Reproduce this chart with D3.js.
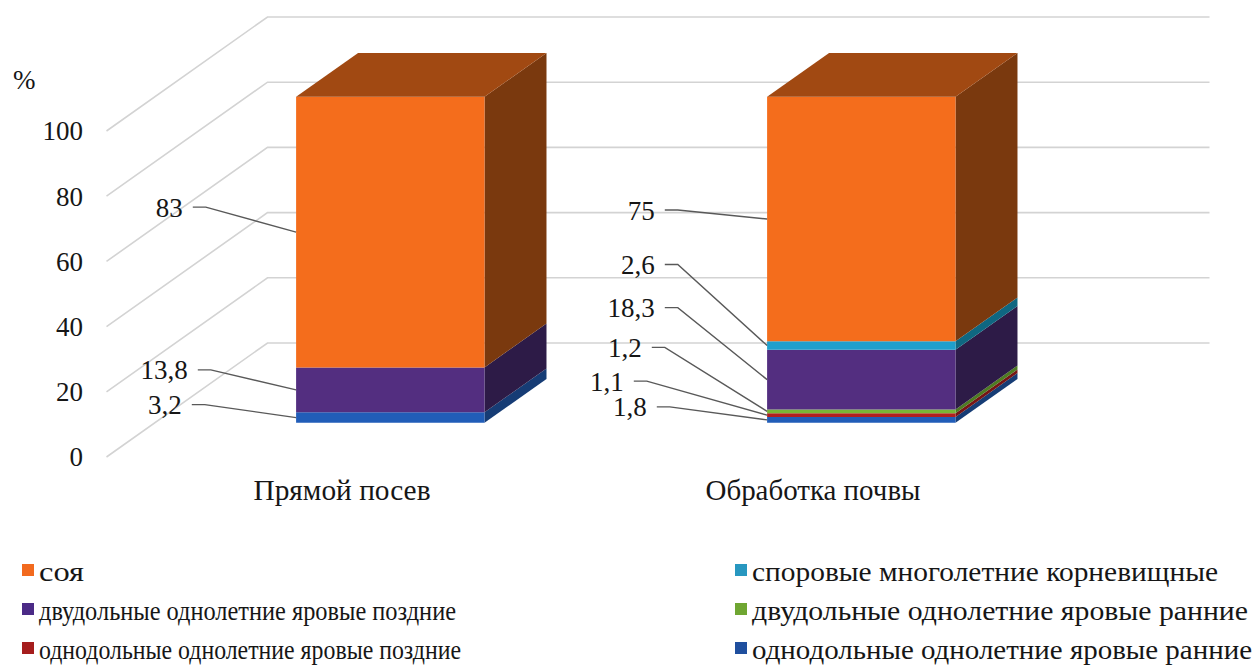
<!DOCTYPE html>
<html>
<head>
<meta charset="utf-8">
<script src="https://cdn.jsdelivr.net/npm/d3@7"></script>
</head>
<body style="margin:0">
<svg id="chart" width="1258" height="671"></svg>
<script>
// Categories (x axis)
const categories = ["Прямой посев", "Обработка почвы"];

// Series values, % of the weed/crop composition, one value per category
const soy          = [83, 75];     // соя
const sporeRhizome = [0, 2.6];     // споровые многолетние корневищные
const dicotLate    = [13.8, 18.3]; // двудольные однолетние яровые поздние
const dicotEarly   = [0, 1.2];     // двудольные однолетние яровые ранние
const monocotLate  = [0, 1.1];     // однодольные однолетние яровые поздние
const monocotEarly = [3.2, 1.8];   // однодольные однолетние яровые ранние

// Legend names, in legend order
const seriesNames = [
  "соя",
  "споровые многолетние корневищные",
  "двудольные однолетние яровые поздние",
  "двудольные однолетние яровые ранние",
  "однодольные однолетние яровые поздние",
  "однодольные однолетние яровые ранние"
];

// Y axis ticks
const yTicks = [0, 20, 40, 60, 80, 100];
const yUnit = "%";

// ---- build series table ----
const seriesKeys = ["soy", "sporeRhizome", "dicotLate", "dicotEarly", "monocotLate", "monocotEarly"];
const seriesValues = { soy, sporeRhizome, dicotLate, dicotEarly, monocotLate, monocotEarly };
const stackOrder = ["monocotEarly", "monocotLate", "dicotEarly", "dicotLate", "sporeRhizome", "soy"];

const table = categories.map((c, i) => {
  const row = { category: c };
  seriesKeys.forEach(k => { row[k] = seriesValues[k][i]; });
  return row;
});

const FONT = '"Liberation Serif"';
const INK = "#161616";

// set widths of the wide text runs (px) so the typeset lines keep their length
const categoryTextWidth = [177, 215];
const legendTextWidth = [45, 466, 417, 496, 422, 500];

// apply the chart's type style to a text selection; optional fixed run width
function typeset(sel, size, width) {
  sel.attr("font-family", "Liberation Serif").style("font-family", FONT)
     .attr("font-size", size).attr("fill", INK);
  if (width) {
    sel.attr("textLength", width).attr("lengthAdjust", "spacingAndGlyphs");
  }
  return sel;
}

// Face colours: front, side, top
const palette = {
  soy:          { front: "#F46D1C", side: "#7A390E", top: "#A14912", swatch: "#F26A1E" },
  sporeRhizome: { front: "#1F9FCC", side: "#0F6781", top: "#17809F", swatch: "#2897C0" },
  dicotLate:    { front: "#532E80", side: "#2D1B47", top: "#3E2362", swatch: "#4B2A86" },
  dicotEarly:   { front: "#79B536", side: "#4E7B22", top: "#5F952A", swatch: "#6FA632" },
  monocotLate:  { front: "#B11F1F", side: "#761515", top: "#8E1818", swatch: "#A51D1D" },
  monocotEarly: { front: "#215DB8", side: "#163C75", top: "#1A4990", swatch: "#1F4F9E" }
};

// ---- oblique 3-D projection ----
const depthX = 161, depthY = -114;      // screen offset of the full floor depth
const barZ0 = 0.30, barZ1 = 0.685;       // bar depth span inside the floor

const svg = d3.select("#chart");

const x = d3.scaleBand().domain(categories).range([106.5, 1048.5]).paddingInner(0).paddingOuter(0);
const y = d3.scaleLinear().domain([0, 100]).range([457, 131]);
const barWidth = x.bandwidth() * 0.4;

const P = (px, v, z) => [px + depthX * z, y(v) + depthY * z];
const poly = pts => "M" + pts.map(p => p.join(",")).join("L") + "Z";

// ---- walls: gridlines on side wall and back wall ----
const grid = svg.append("g").attr("fill", "none").attr("stroke", "#d3d3d3").attr("stroke-width", 1.6);
yTicks.forEach(t => {
  const a = P(x.range()[0], t, 0), b = P(x.range()[0], t, 1), c = P(x.range()[1], t, 1);
  grid.append("path").attr("d", `M${a}L${b}L${c}`);
});

// ---- y axis labels ----
const axisG = svg.append("g");
typeset(axisG.selectAll("text.tick").data(yTicks).join("text")
  .attr("class", "tick")
  .attr("x", 83).attr("y", d => y(d))
  .attr("dy", "0.35em").attr("text-anchor", "end")
  .text(d => d), 27);
typeset(axisG.append("text").attr("x", 13).attr("y", 80).attr("dy", "0.35em").text(yUnit), 27);

// ---- category labels on the floor front edge ----
const catG = svg.append("g");
categories.forEach((c, i) => {
  typeset(catG.append("text")
    .attr("x", x(c) + x.bandwidth() / 2)
    .attr("y", 490).attr("dy", "0.35em")
    .attr("text-anchor", "middle")
    .text(c), 29, categoryTextWidth[i]);
});

// ---- stacked 3-D bars ----
const stacked = d3.stack().keys(stackOrder)(table);
const barsG = svg.append("g");

categories.forEach((cat, ci) => {
  const left = x(cat) + x.bandwidth() / 2 - barWidth / 2;
  const right = left + barWidth;
  const layers = stacked.map(s => ({ key: s.key, y0: s[ci][0], y1: s[ci][1] })).filter(d => d.y1 - d.y0 > 0);
  layers.forEach((d, li) => {
    const col = palette[d.key];
    // right side face
    barsG.append("path")
      .attr("d", poly([P(right, d.y0, barZ0), P(right, d.y0, barZ1), P(right, d.y1, barZ1), P(right, d.y1, barZ0)]))
      .attr("fill", col.side);
    // front face
    barsG.append("path")
      .attr("d", poly([P(left, d.y0, barZ0), P(right, d.y0, barZ0), P(right, d.y1, barZ0), P(left, d.y1, barZ0)]))
      .attr("fill", col.front);
    // top face of the uppermost segment
    if (li === layers.length - 1) {
      barsG.append("path")
        .attr("d", poly([P(left, d.y1, barZ0), P(right, d.y1, barZ0), P(right, d.y1, barZ1), P(left, d.y1, barZ1)]))
        .attr("fill", col.top);
    }
  });
});

// ---- data labels with leader lines ----
// label placement: text right edge relative to bar's left edge, and vertical shift from segment middle
const labelPlacement = {
  "Прямой посев":    { soy: [-65, -25], dicotLate: [-60, -20], monocotEarly: [-66, -13] },
  "Обработка почвы": { soy: [-64, -9], sporeRhizome: [-64, -81], dicotLate: [-64, -72],
                       dicotEarly: [-77, -64], monocotLate: [-95, -34], monocotEarly: [-72, -13] }
};
const fmt = v => String(v).replace(".", ",");
const labelsG = svg.append("g");
categories.forEach((cat, ci) => {
  const left = x(cat) + x.bandwidth() / 2 - barWidth / 2;
  stacked.forEach(s => {
    const v = seriesValues[s.key][ci];
    const place = labelPlacement[cat][s.key];
    if (!(v > 0) || !place) return;
    const mid = P(left, (s[ci][0] + s[ci][1]) / 2, barZ0);
    const tx = left + place[0], ty = mid[1] + place[1];
    typeset(labelsG.append("text").attr("x", tx).attr("y", ty).attr("dy", "0.35em")
      .attr("text-anchor", "end").text(fmt(v)), 27);
    labelsG.append("path")
      .attr("d", `M${tx + 10},${ty}L${tx + 23},${ty}L${mid[0]},${mid[1]}`)
      .attr("fill", "none").attr("stroke", "#595959").attr("stroke-width", 1.4);
  });
});

// ---- legend (two columns, row-major) ----
const legendG = svg.append("g");
const colX = [22, 735], rowY = [572, 611, 650];
seriesNames.forEach((name, i) => {
  const key = seriesKeys[i];
  const gx = colX[i % 2], gy = rowY[Math.floor(i / 2)];
  legendG.append("rect").attr("x", gx).attr("y", gy - 8).attr("width", 12).attr("height", 12)
    .attr("fill", palette[key].swatch);
  typeset(legendG.append("text").attr("x", gx + 17).attr("y", gy).attr("dy", "0.32em").text(name),
    28, legendTextWidth[i]);
});
</script>
</body>
</html>
